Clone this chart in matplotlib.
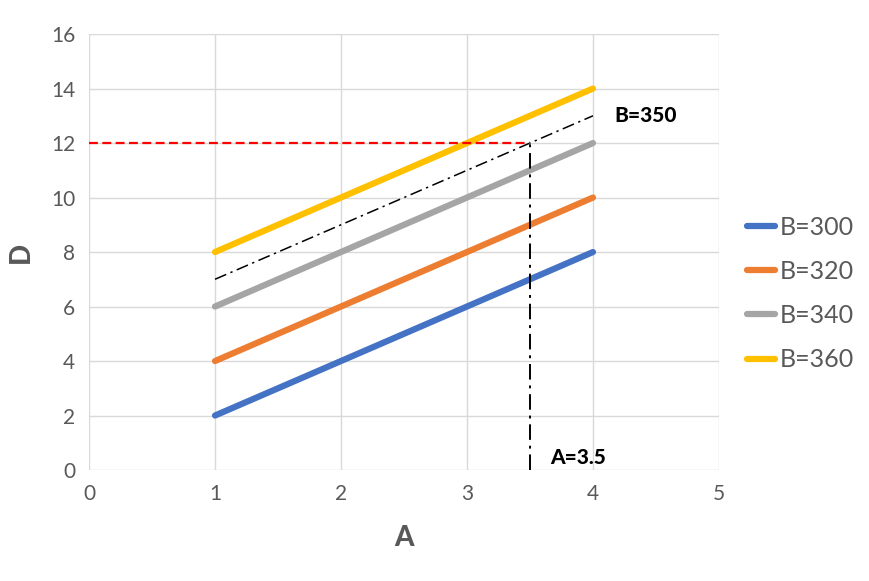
import matplotlib
matplotlib.use("Agg")
from matplotlib import pyplot as plt

plt.rcParams['font.family'] = ['Lato', 'DejaVu Sans']

a_vals = [1, 2, 3, 4]
series_names = ['B=300', 'B=320', 'B=340', 'B=360']
d_vals = [
    [2, 4, 6, 8],
    [4, 6, 8, 10],
    [6, 8, 10, 12],
    [8, 10, 12, 14],
]
colors = ['#4472C4', '#ED7D31', '#A5A5A5', '#FFC000']

# interpolated line B=350 and the reading at A=3.5
b350_a = [1, 4]
b350_d = [7, 13]
a_read = 3.5
d_read = 12

fig = plt.figure(figsize=(8.7, 5.81), dpi=100)
ax = fig.add_axes([0.1023, 0.191, 0.7241, 0.7504])

for d, c, n in zip(d_vals, colors, series_names):
    ax.plot(a_vals, d, color=c, lw=4.5, solid_capstyle='round', label=n, zorder=3)

ax.plot(b350_a, b350_d, color='black', lw=1.1, dashes=(8, 3, 1.5, 3), zorder=4)
ax.plot([0, a_read], [d_read, d_read], color='#FF0000', lw=1.6, dashes=(4, 2), zorder=4)
ax.plot([a_read, a_read], [0, d_read], color='black', lw=1.4, dashes=(8, 3, 1.5, 3), zorder=4)

ax.text(4.17, 13.0, 'B=350', fontsize=15, fontweight='black', va='center', ha='left')
ax.text(3.66, 0.45, 'A=3.5', fontsize=15, fontweight='black', va='center', ha='left')

ax.set_xlim(0, 5)
ax.set_ylim(0, 16)
ax.set_xticks(range(0, 6))
ax.set_yticks(range(0, 17, 2))
ax.grid(True, color='#D9D9D9', lw=1)
ax.set_axisbelow(True)
for s in ax.spines.values():
    s.set_visible(False)
ax.tick_params(length=0, labelsize=15, labelcolor='#595959', pad=10)

ax.set_xlabel('A', fontsize=20, fontweight='black', color='#595959', labelpad=15)
ax.set_ylabel('D', fontsize=20, fontweight='black', color='#595959', labelpad=12)

leg = ax.legend(loc='center left', bbox_to_anchor=(1.025, 0.405), frameon=False,
                fontsize=18, handlelength=1.1, handletextpad=0.2, labelspacing=0.85,
                borderpad=0, labelcolor='#595959')

fig.savefig('out.png', dpi=100)
